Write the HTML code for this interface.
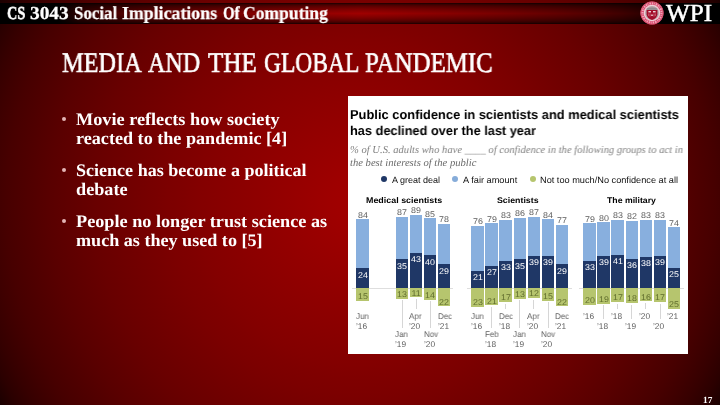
<!DOCTYPE html>
<html><head><meta charset="utf-8"><title>Media and the Global Pandemic</title>
<style>
html,body{margin:0;padding:0;}
body{width:720px;height:405px;overflow:hidden;position:relative;background:#7a0000;font-family:"Liberation Sans",sans-serif;}
.bg{position:absolute;left:0;top:0;width:720px;height:405px;}
.t{position:absolute;white-space:nowrap;margin:0;padding:0;text-rendering:geometricPrecision;will-change:transform;}
.r{position:absolute;}
#chart{position:absolute;left:348px;top:96px;width:340.2px;height:258px;background:#fff;}
.dot{position:absolute;width:6px;height:6px;border-radius:50%;}
.bul{position:absolute;width:4.4px;height:4.4px;border-radius:50%;background:#e3b5b5;}
</style></head><body>
<div class="bg" style="background:radial-gradient(circle 413px at 360px 202.5px,rgb(163,0,0) 0.00%,rgb(160,0,0) 3.57%,rgb(158,0,0) 7.14%,rgb(155,0,0) 10.71%,rgb(152,0,0) 14.29%,rgb(149,0,0) 17.86%,rgb(146,0,0) 21.43%,rgb(143,0,0) 25.00%,rgb(140,0,0) 28.57%,rgb(137,0,0) 32.14%,rgb(134,0,0) 35.71%,rgb(131,0,0) 39.29%,rgb(127,0,0) 42.86%,rgb(124,0,0) 46.43%,rgb(120,0,0) 50.00%,rgb(116,0,0) 53.57%,rgb(112,0,0) 57.14%,rgb(108,0,0) 60.71%,rgb(104,0,0) 64.29%,rgb(99,0,0) 67.86%,rgb(94,0,0) 71.43%,rgb(89,0,0) 75.00%,rgb(83,0,0) 78.57%,rgb(77,0,0) 82.14%,rgb(71,0,0) 85.71%,rgb(63,0,0) 89.29%,rgb(54,0,0) 92.86%,rgb(43,0,0) 96.43%,rgb(27,0,0) 100.00%);"></div>
<div id="band" style="position:absolute;left:0;top:3px;width:720px;height:20.7px;background:linear-gradient(180deg,rgb(23,0,0) 0.0%,rgb(59,0,0) 5.0%,rgb(78,0,0) 10.0%,rgb(93,0,0) 15.0%,rgb(105,0,0) 20.0%,rgb(116,0,0) 25.0%,rgb(126,0,0) 30.0%,rgb(135,0,0) 35.0%,rgb(143,0,0) 40.0%,rgb(151,0,0) 45.0%,rgb(158,0,0) 50.0%,rgb(151,0,0) 55.0%,rgb(143,0,0) 60.0%,rgb(135,0,0) 65.0%,rgb(126,0,0) 70.0%,rgb(116,0,0) 75.0%,rgb(105,0,0) 80.0%,rgb(93,0,0) 85.0%,rgb(78,0,0) 90.0%,rgb(59,0,0) 95.0%,rgb(23,0,0) 100.0%);"></div>
<div id="bandx" style="position:absolute;left:0;top:2.5px;width:720px;height:21.7px;background:linear-gradient(90deg,rgba(0,0,0,1) 0%,rgba(0,0,0,1.000) 8.00%,rgba(0,0,0,0.699) 11.00%,rgba(0,0,0,0.587) 14.00%,rgba(0,0,0,0.504) 17.00%,rgba(0,0,0,0.434) 20.00%,rgba(0,0,0,0.374) 23.00%,rgba(0,0,0,0.320) 26.00%,rgba(0,0,0,0.270) 29.00%,rgba(0,0,0,0.225) 32.00%,rgba(0,0,0,0.182) 35.00%,rgba(0,0,0,0.142) 38.00%,rgba(0,0,0,0.104) 41.00%,rgba(0,0,0,0.068) 44.00%,rgba(0,0,0,0.033) 47.00%,rgba(0,0,0,0.000) 50.00%,rgba(0,0,0,0.033) 53.00%,rgba(0,0,0,0.068) 56.00%,rgba(0,0,0,0.104) 59.00%,rgba(0,0,0,0.142) 62.00%,rgba(0,0,0,0.182) 65.00%,rgba(0,0,0,0.225) 68.00%,rgba(0,0,0,0.270) 71.00%,rgba(0,0,0,0.320) 74.00%,rgba(0,0,0,0.374) 77.00%,rgba(0,0,0,0.434) 80.00%,rgba(0,0,0,0.504) 83.00%,rgba(0,0,0,0.587) 86.00%,rgba(0,0,0,0.699) 89.00%,rgba(0,0,0,1.000) 92.00%,rgba(0,0,0,1) 100%);"></div>
<svg id="seal" style="position:absolute;left:638.9px;top:0.4px" width="26" height="26" viewBox="-13 -13 26 26">
<circle r="11.6" fill="#d6476a"/>
<circle r="9.6" fill="none" stroke="#f0a2b6" stroke-width="2.2" stroke-dasharray="1.3 0.7 0.8 1.1 1.6 0.9"/>
<circle r="11.2" fill="none" stroke="#dc5a74" stroke-width="0.7"/>
<circle r="7.6" fill="#b5a1a6" stroke="#f0d0d7" stroke-width="1.4"/>
<path d="M-5.2,-4.6 Q0,-6.6 5.2,-4.6 L5.2,-3.2 L-5.2,-3.2 Z" fill="#8f8a8c"/>
<path d="M-5.4,-3 L5.4,-3 L5.4,1.2 Q5,5.2 0,7.1 Q-5,5.2 -5.4,1.2 Z" fill="#a30d2a"/>
<rect x="-3.6" y="-1.9" width="2.6" height="1.3" fill="#f4e6e8"/>
<rect x="1" y="-1.9" width="2.6" height="1.3" fill="#f4e6e8"/>
<rect x="-1.1" y="1.6" width="2.2" height="1.2" fill="#ecd0d4"/>
<path d="M-3.4,0.4 L-3.4,3 M-2,0.4 L-2,3.6 M2,0.4 L2,3.6 M3.4,0.4 L3.4,3" stroke="#d9808f" stroke-width="0.6"/>
</svg>
<div id="chart"></div>
<div class="r" style="left:352.00px;top:287.80px;width:101.00px;height:0.80px;background:#dedede"></div>
<div class="r" style="left:356.40px;top:219.15px;width:12.40px;height:49.92px;background:#88afde"></div>
<div class="r" style="left:356.40px;top:268.47px;width:12.40px;height:20.33px;background:#1f3766"></div>
<div class="r" style="left:356.40px;top:288.20px;width:12.40px;height:12.33px;background:#b6c56e"></div>
<div class="r" style="left:395.80px;top:216.69px;width:12.40px;height:43.34px;background:#88afde"></div>
<div class="r" style="left:395.80px;top:259.43px;width:12.40px;height:29.37px;background:#1f3766"></div>
<div class="r" style="left:395.80px;top:288.20px;width:12.40px;height:10.69px;background:#b6c56e"></div>
<div class="r" style="left:401.60px;top:300.39px;width:0.80px;height:27.61px;background:#d6d6d6"></div>
<div class="r" style="left:409.80px;top:215.04px;width:12.40px;height:38.41px;background:#88afde"></div>
<div class="r" style="left:409.80px;top:252.85px;width:12.40px;height:35.95px;background:#1f3766"></div>
<div class="r" style="left:409.80px;top:288.20px;width:12.40px;height:9.04px;background:#b6c56e"></div>
<div class="r" style="left:415.60px;top:298.74px;width:0.80px;height:10.56px;background:#d6d6d6"></div>
<div class="r" style="left:424.00px;top:218.33px;width:12.40px;height:37.59px;background:#88afde"></div>
<div class="r" style="left:424.00px;top:255.32px;width:12.40px;height:33.48px;background:#1f3766"></div>
<div class="r" style="left:424.00px;top:288.20px;width:12.40px;height:11.51px;background:#b6c56e"></div>
<div class="r" style="left:429.80px;top:301.21px;width:0.80px;height:26.79px;background:#d6d6d6"></div>
<div class="r" style="left:438.00px;top:224.08px;width:12.40px;height:40.88px;background:#88afde"></div>
<div class="r" style="left:438.00px;top:264.36px;width:12.40px;height:24.44px;background:#1f3766"></div>
<div class="r" style="left:438.00px;top:288.20px;width:12.40px;height:18.08px;background:#b6c56e"></div>
<div class="r" style="left:467.00px;top:287.80px;width:105.00px;height:0.80px;background:#dedede"></div>
<div class="r" style="left:471.30px;top:225.73px;width:12.40px;height:45.81px;background:#88afde"></div>
<div class="r" style="left:471.30px;top:270.94px;width:12.40px;height:17.86px;background:#1f3766"></div>
<div class="r" style="left:471.30px;top:288.20px;width:12.40px;height:18.91px;background:#b6c56e"></div>
<div class="r" style="left:485.38px;top:223.26px;width:12.40px;height:43.34px;background:#88afde"></div>
<div class="r" style="left:485.38px;top:266.01px;width:12.40px;height:22.79px;background:#1f3766"></div>
<div class="r" style="left:485.38px;top:288.20px;width:12.40px;height:17.26px;background:#b6c56e"></div>
<div class="r" style="left:491.18px;top:306.96px;width:0.80px;height:21.04px;background:#d6d6d6"></div>
<div class="r" style="left:499.46px;top:219.97px;width:12.40px;height:41.70px;background:#88afde"></div>
<div class="r" style="left:499.46px;top:261.07px;width:12.40px;height:27.73px;background:#1f3766"></div>
<div class="r" style="left:499.46px;top:288.20px;width:12.40px;height:13.97px;background:#b6c56e"></div>
<div class="r" style="left:505.26px;top:303.67px;width:0.80px;height:5.63px;background:#d6d6d6"></div>
<div class="r" style="left:513.54px;top:217.51px;width:12.40px;height:42.52px;background:#88afde"></div>
<div class="r" style="left:513.54px;top:259.43px;width:12.40px;height:29.37px;background:#1f3766"></div>
<div class="r" style="left:513.54px;top:288.20px;width:12.40px;height:10.69px;background:#b6c56e"></div>
<div class="r" style="left:519.34px;top:300.39px;width:0.80px;height:27.61px;background:#d6d6d6"></div>
<div class="r" style="left:527.62px;top:216.69px;width:12.40px;height:40.06px;background:#88afde"></div>
<div class="r" style="left:527.62px;top:256.14px;width:12.40px;height:32.66px;background:#1f3766"></div>
<div class="r" style="left:527.62px;top:288.20px;width:12.40px;height:9.86px;background:#b6c56e"></div>
<div class="r" style="left:533.42px;top:299.56px;width:0.80px;height:9.74px;background:#d6d6d6"></div>
<div class="r" style="left:541.70px;top:219.15px;width:12.40px;height:37.59px;background:#88afde"></div>
<div class="r" style="left:541.70px;top:256.14px;width:12.40px;height:32.66px;background:#1f3766"></div>
<div class="r" style="left:541.70px;top:288.20px;width:12.40px;height:12.33px;background:#b6c56e"></div>
<div class="r" style="left:547.50px;top:302.03px;width:0.80px;height:25.97px;background:#d6d6d6"></div>
<div class="r" style="left:555.78px;top:224.91px;width:12.40px;height:40.06px;background:#88afde"></div>
<div class="r" style="left:555.78px;top:264.36px;width:12.40px;height:24.44px;background:#1f3766"></div>
<div class="r" style="left:555.78px;top:288.20px;width:12.40px;height:18.08px;background:#b6c56e"></div>
<div class="r" style="left:579.00px;top:287.80px;width:105.00px;height:0.80px;background:#dedede"></div>
<div class="r" style="left:583.30px;top:223.26px;width:12.40px;height:38.41px;background:#88afde"></div>
<div class="r" style="left:583.30px;top:261.07px;width:12.40px;height:27.73px;background:#1f3766"></div>
<div class="r" style="left:583.30px;top:288.20px;width:12.40px;height:16.44px;background:#b6c56e"></div>
<div class="r" style="left:597.38px;top:222.44px;width:12.40px;height:34.30px;background:#88afde"></div>
<div class="r" style="left:597.38px;top:256.14px;width:12.40px;height:32.66px;background:#1f3766"></div>
<div class="r" style="left:597.38px;top:288.20px;width:12.40px;height:15.62px;background:#b6c56e"></div>
<div class="r" style="left:603.18px;top:305.32px;width:0.80px;height:13.68px;background:#d6d6d6"></div>
<div class="r" style="left:611.46px;top:219.97px;width:12.40px;height:35.12px;background:#88afde"></div>
<div class="r" style="left:611.46px;top:254.50px;width:12.40px;height:34.30px;background:#1f3766"></div>
<div class="r" style="left:611.46px;top:288.20px;width:12.40px;height:13.97px;background:#b6c56e"></div>
<div class="r" style="left:617.26px;top:303.67px;width:0.80px;height:5.33px;background:#d6d6d6"></div>
<div class="r" style="left:625.54px;top:220.80px;width:12.40px;height:38.41px;background:#88afde"></div>
<div class="r" style="left:625.54px;top:258.61px;width:12.40px;height:30.19px;background:#1f3766"></div>
<div class="r" style="left:625.54px;top:288.20px;width:12.40px;height:14.80px;background:#b6c56e"></div>
<div class="r" style="left:631.34px;top:304.50px;width:0.80px;height:14.50px;background:#d6d6d6"></div>
<div class="r" style="left:639.62px;top:219.97px;width:12.40px;height:37.59px;background:#88afde"></div>
<div class="r" style="left:639.62px;top:256.96px;width:12.40px;height:31.84px;background:#1f3766"></div>
<div class="r" style="left:639.62px;top:288.20px;width:12.40px;height:13.15px;background:#b6c56e"></div>
<div class="r" style="left:645.42px;top:302.85px;width:0.80px;height:6.15px;background:#d6d6d6"></div>
<div class="r" style="left:653.70px;top:219.97px;width:12.40px;height:36.77px;background:#88afde"></div>
<div class="r" style="left:653.70px;top:256.14px;width:12.40px;height:32.66px;background:#1f3766"></div>
<div class="r" style="left:653.70px;top:288.20px;width:12.40px;height:13.97px;background:#b6c56e"></div>
<div class="r" style="left:659.50px;top:303.67px;width:0.80px;height:15.33px;background:#d6d6d6"></div>
<div class="r" style="left:667.78px;top:227.37px;width:12.40px;height:40.88px;background:#88afde"></div>
<div class="r" style="left:667.78px;top:267.65px;width:12.40px;height:21.15px;background:#1f3766"></div>
<div class="r" style="left:667.78px;top:288.20px;width:12.40px;height:20.55px;background:#b6c56e"></div>
<div class="dot" style="left:381.3px;top:176px;background:#1f3766"></div>
<div class="dot" style="left:452px;top:176px;background:#86acd9"></div>
<div class="dot" style="left:530px;top:176px;background:#b6c56e"></div>
<div class="bul" style="left:61.5px;top:117px"></div>
<div class="bul" style="left:61.5px;top:168px"></div>
<div class="bul" style="left:61.5px;top:219px"></div>
<div class="t" style="top:2.20px;font:normal bold 18.3px/23.79px 'Liberation Serif', serif;color:#fff;left:7.19px;transform-origin:0 50%;transform:scaleX(0.7802);-webkit-text-stroke:0.6px #fff;">CS</div>
<div class="t" style="top:2.20px;font:normal bold 18.3px/23.79px 'Liberation Serif', serif;color:#fff;left:30.35px;transform-origin:0 50%;transform:scaleX(1.0584);-webkit-text-stroke:0.25px #fff;">3043</div>
<div class="t" style="top:2.20px;font:normal bold 18.3px/23.79px 'Liberation Serif', serif;color:#fff;left:74.14px;transform-origin:0 50%;transform:scaleX(0.9236);-webkit-text-stroke:0.25px #fff;">Social</div>
<div class="t" style="top:2.20px;font:normal bold 18.3px/23.79px 'Liberation Serif', serif;color:#fff;left:122.45px;transform-origin:0 50%;transform:scaleX(0.9741);-webkit-text-stroke:0.25px #fff;">Implications</div>
<div class="t" style="top:2.20px;font:normal bold 18.3px/23.79px 'Liberation Serif', serif;color:#fff;left:222.82px;transform-origin:0 50%;transform:scaleX(0.8149);-webkit-text-stroke:0.45px #fff;">Of</div>
<div class="t" style="top:2.20px;font:normal bold 18.3px/23.79px 'Liberation Serif', serif;color:#fff;left:243.35px;transform-origin:0 50%;transform:scaleX(0.9601);-webkit-text-stroke:0.25px #fff;">Computing</div>
<div class="t" style="top:-1.82px;font:normal normal 24.6px/31.98px 'Liberation Serif', serif;color:#fff;left:665.60px;transform-origin:0 50%;transform:scaleX(1.0245);-webkit-text-stroke:0.5px #fff;">WPI</div>
<div class="t" style="top:46.20px;font:normal normal 28.4px/36.92px 'Liberation Serif', serif;color:#fff;left:61.64px;transform-origin:0 50%;transform:scaleX(0.8577);-webkit-text-stroke:0.6px #fff;">MEDIA</div>
<div class="t" style="top:46.20px;font:normal normal 28.4px/36.92px 'Liberation Serif', serif;color:#fff;left:147.94px;transform-origin:0 50%;transform:scaleX(0.8475);-webkit-text-stroke:0.6px #fff;">AND</div>
<div class="t" style="top:46.20px;font:normal normal 28.4px/36.92px 'Liberation Serif', serif;color:#fff;left:207.86px;transform-origin:0 50%;transform:scaleX(0.8842);-webkit-text-stroke:0.6px #fff;">THE</div>
<div class="t" style="top:46.20px;font:normal normal 28.4px/36.92px 'Liberation Serif', serif;color:#fff;left:263.57px;transform-origin:0 50%;transform:scaleX(0.8278);-webkit-text-stroke:0.6px #fff;">GLOBAL</div>
<div class="t" style="top:46.20px;font:normal normal 28.4px/36.92px 'Liberation Serif', serif;color:#fff;left:365.40px;transform-origin:0 50%;transform:scaleX(0.8767);-webkit-text-stroke:0.6px #fff;">PANDEMIC</div>
<div class="t" style="top:108.20px;font:normal bold 17.6px/22.88px 'Liberation Serif', serif;color:#fff;left:76.40px;transform-origin:0 50%;transform:scaleX(1.0358);">Movie reflects how society</div>
<div class="t" style="top:127.20px;font:normal bold 17.6px/22.88px 'Liberation Serif', serif;color:#fff;left:76.40px;transform-origin:0 50%;transform:scaleX(1.0308);">reacted to the pandemic [4]</div>
<div class="t" style="top:159.20px;font:normal bold 17.6px/22.88px 'Liberation Serif', serif;color:#fff;left:76.40px;transform-origin:0 50%;transform:scaleX(1.0259);">Science has become a political</div>
<div class="t" style="top:178.20px;font:normal bold 17.6px/22.88px 'Liberation Serif', serif;color:#fff;left:76.40px;transform-origin:0 50%;transform:scaleX(1.0352);">debate</div>
<div class="t" style="top:210.20px;font:normal bold 17.6px/22.88px 'Liberation Serif', serif;color:#fff;left:76.40px;transform-origin:0 50%;transform:scaleX(1.0353);">People no longer trust science as</div>
<div class="t" style="top:229.20px;font:normal bold 17.6px/22.88px 'Liberation Serif', serif;color:#fff;left:76.40px;transform-origin:0 50%;transform:scaleX(1.0291);">much as they used to [5]</div>
<div class="t" style="top:395.20px;font:normal bold 9.3px/12.09px 'Liberation Serif', serif;color:#fff;left:703.10px;transform-origin:0 50%;transform:scaleX(0.9788);">17</div>
<div class="t" style="top:107.20px;font:normal bold 12.9px/16.77px 'Liberation Sans', sans-serif;color:#000;left:350.00px;transform-origin:0 50%;transform:scaleX(0.9984);">Public confidence in scientists and medical scientists</div>
<div class="t" style="top:123.20px;font:normal bold 12.9px/16.77px 'Liberation Sans', sans-serif;color:#000;left:350.00px;transform-origin:0 50%;transform:scaleX(0.9908);">has declined over the last year</div>
<div class="t" style="top:144.21px;font:italic normal 10.6px/13.78px 'Liberation Serif', serif;color:#808080;left:350.00px;transform-origin:0 50%;transform:scaleX(0.9983);">% of U.S. adults who have ____ of confidence in the following groups to act in</div>
<div class="t" style="top:157.21px;font:italic normal 10.6px/13.78px 'Liberation Serif', serif;color:#6a6a6a;left:350.00px;transform-origin:0 50%;transform:scaleX(0.9998);">the best interests of the public</div>
<div class="t" style="top:175.21px;font:normal normal 9px/11.7px 'Liberation Sans', sans-serif;color:#111;left:392.30px;transform-origin:0 50%;transform:scaleX(0.9928);">A great deal</div>
<div class="t" style="top:175.21px;font:normal normal 9px/11.7px 'Liberation Sans', sans-serif;color:#111;left:462.50px;transform-origin:0 50%;transform:scaleX(1.0239);">A fair amount</div>
<div class="t" style="top:175.21px;font:normal normal 9px/11.7px 'Liberation Sans', sans-serif;color:#111;left:540.00px;transform-origin:0 50%;transform:scaleX(1.0216);">Not too much/No confidence at all</div>
<div class="t" style="top:196.21px;font:normal bold 8.2px/10.66px 'Liberation Sans', sans-serif;color:#000;left:366.20px;transform-origin:0 50%;transform:scaleX(1.0874);">Medical scientists</div>
<div class="t" style="top:196.21px;font:normal bold 8.2px/10.66px 'Liberation Sans', sans-serif;color:#000;left:497.30px;transform-origin:0 50%;transform:scaleX(1.0753);">Scientists</div>
<div class="t" style="top:196.21px;font:normal bold 8.2px/10.66px 'Liberation Sans', sans-serif;color:#000;left:607.10px;transform-origin:0 50%;transform:scaleX(1.0638);">The military</div>
<div class="t" style="top:210.20px;font:normal normal 8.3px/10.79px 'Liberation Sans', sans-serif;color:#5c5c5c;left:332.60px;width:60px;text-align:center;transform:scaleX(1.07);">84</div>
<div class="t" style="top:270.20px;font:normal normal 8.3px/10.79px 'Liberation Sans', sans-serif;color:#fff;left:332.60px;width:60px;text-align:center;transform:scaleX(1.07);">24</div>
<div class="t" style="top:291.20px;font:normal normal 8.3px/10.79px 'Liberation Sans', sans-serif;color:#5f6c2c;left:332.60px;width:60px;text-align:center;transform:scaleX(1.07);">15</div>
<div class="t" style="top:311.20px;font:normal normal 8.3px/10.79px 'Liberation Sans', sans-serif;color:#5e5e5e;left:355.90px;transform-origin:0 50%;transform:scaleX(0.96);">Jun</div>
<div class="t" style="top:321.20px;font:normal normal 8.3px/10.79px 'Liberation Sans', sans-serif;color:#5e5e5e;left:355.90px;transform-origin:0 50%;transform:scaleX(0.96);">’16</div>
<div class="t" style="top:207.20px;font:normal normal 8.3px/10.79px 'Liberation Sans', sans-serif;color:#5c5c5c;left:372.00px;width:60px;text-align:center;transform:scaleX(1.07);">87</div>
<div class="t" style="top:261.20px;font:normal normal 8.3px/10.79px 'Liberation Sans', sans-serif;color:#fff;left:372.00px;width:60px;text-align:center;transform:scaleX(1.07);">35</div>
<div class="t" style="top:289.20px;font:normal normal 8.3px/10.79px 'Liberation Sans', sans-serif;color:#5f6c2c;left:372.00px;width:60px;text-align:center;transform:scaleX(1.07);">13</div>
<div class="t" style="top:329.20px;font:normal normal 8.3px/10.79px 'Liberation Sans', sans-serif;color:#5e5e5e;left:395.30px;transform-origin:0 50%;transform:scaleX(0.96);">Jan</div>
<div class="t" style="top:339.20px;font:normal normal 8.3px/10.79px 'Liberation Sans', sans-serif;color:#5e5e5e;left:395.30px;transform-origin:0 50%;transform:scaleX(0.96);">’19</div>
<div class="t" style="top:205.20px;font:normal normal 8.3px/10.79px 'Liberation Sans', sans-serif;color:#5c5c5c;left:386.00px;width:60px;text-align:center;transform:scaleX(1.07);">89</div>
<div class="t" style="top:254.20px;font:normal normal 8.3px/10.79px 'Liberation Sans', sans-serif;color:#fff;left:386.00px;width:60px;text-align:center;transform:scaleX(1.07);">43</div>
<div class="t" style="top:288.20px;font:normal normal 8.3px/10.79px 'Liberation Sans', sans-serif;color:#5f6c2c;left:386.00px;width:60px;text-align:center;transform:scaleX(1.07);">11</div>
<div class="t" style="top:311.20px;font:normal normal 8.3px/10.79px 'Liberation Sans', sans-serif;color:#5e5e5e;left:409.30px;transform-origin:0 50%;transform:scaleX(0.96);">Apr</div>
<div class="t" style="top:321.20px;font:normal normal 8.3px/10.79px 'Liberation Sans', sans-serif;color:#5e5e5e;left:409.30px;transform-origin:0 50%;transform:scaleX(0.96);">’20</div>
<div class="t" style="top:209.20px;font:normal normal 8.3px/10.79px 'Liberation Sans', sans-serif;color:#5c5c5c;left:400.20px;width:60px;text-align:center;transform:scaleX(1.07);">85</div>
<div class="t" style="top:257.20px;font:normal normal 8.3px/10.79px 'Liberation Sans', sans-serif;color:#fff;left:400.20px;width:60px;text-align:center;transform:scaleX(1.07);">40</div>
<div class="t" style="top:290.20px;font:normal normal 8.3px/10.79px 'Liberation Sans', sans-serif;color:#5f6c2c;left:400.20px;width:60px;text-align:center;transform:scaleX(1.07);">14</div>
<div class="t" style="top:329.20px;font:normal normal 8.3px/10.79px 'Liberation Sans', sans-serif;color:#5e5e5e;left:423.50px;transform-origin:0 50%;transform:scaleX(0.96);">Nov</div>
<div class="t" style="top:339.20px;font:normal normal 8.3px/10.79px 'Liberation Sans', sans-serif;color:#5e5e5e;left:423.50px;transform-origin:0 50%;transform:scaleX(0.96);">’20</div>
<div class="t" style="top:214.20px;font:normal normal 8.3px/10.79px 'Liberation Sans', sans-serif;color:#5c5c5c;left:414.20px;width:60px;text-align:center;transform:scaleX(1.07);">78</div>
<div class="t" style="top:266.20px;font:normal normal 8.3px/10.79px 'Liberation Sans', sans-serif;color:#fff;left:414.20px;width:60px;text-align:center;transform:scaleX(1.07);">29</div>
<div class="t" style="top:297.20px;font:normal normal 8.3px/10.79px 'Liberation Sans', sans-serif;color:#5f6c2c;left:414.20px;width:60px;text-align:center;transform:scaleX(1.07);">22</div>
<div class="t" style="top:311.20px;font:normal normal 8.3px/10.79px 'Liberation Sans', sans-serif;color:#5e5e5e;left:437.50px;transform-origin:0 50%;transform:scaleX(0.96);">Dec</div>
<div class="t" style="top:321.20px;font:normal normal 8.3px/10.79px 'Liberation Sans', sans-serif;color:#5e5e5e;left:437.50px;transform-origin:0 50%;transform:scaleX(0.96);">’21</div>
<div class="t" style="top:216.20px;font:normal normal 8.3px/10.79px 'Liberation Sans', sans-serif;color:#5c5c5c;left:447.50px;width:60px;text-align:center;transform:scaleX(1.07);">76</div>
<div class="t" style="top:272.20px;font:normal normal 8.3px/10.79px 'Liberation Sans', sans-serif;color:#fff;left:447.50px;width:60px;text-align:center;transform:scaleX(1.07);">21</div>
<div class="t" style="top:297.20px;font:normal normal 8.3px/10.79px 'Liberation Sans', sans-serif;color:#5f6c2c;left:447.50px;width:60px;text-align:center;transform:scaleX(1.07);">23</div>
<div class="t" style="top:311.20px;font:normal normal 8.3px/10.79px 'Liberation Sans', sans-serif;color:#5e5e5e;left:470.80px;transform-origin:0 50%;transform:scaleX(0.96);">Jun</div>
<div class="t" style="top:321.20px;font:normal normal 8.3px/10.79px 'Liberation Sans', sans-serif;color:#5e5e5e;left:470.80px;transform-origin:0 50%;transform:scaleX(0.96);">’16</div>
<div class="t" style="top:214.20px;font:normal normal 8.3px/10.79px 'Liberation Sans', sans-serif;color:#5c5c5c;left:461.58px;width:60px;text-align:center;transform:scaleX(1.07);">79</div>
<div class="t" style="top:267.20px;font:normal normal 8.3px/10.79px 'Liberation Sans', sans-serif;color:#fff;left:461.58px;width:60px;text-align:center;transform:scaleX(1.07);">27</div>
<div class="t" style="top:296.20px;font:normal normal 8.3px/10.79px 'Liberation Sans', sans-serif;color:#5f6c2c;left:461.58px;width:60px;text-align:center;transform:scaleX(1.07);">21</div>
<div class="t" style="top:329.20px;font:normal normal 8.3px/10.79px 'Liberation Sans', sans-serif;color:#5e5e5e;left:484.88px;transform-origin:0 50%;transform:scaleX(0.96);">Feb</div>
<div class="t" style="top:339.20px;font:normal normal 8.3px/10.79px 'Liberation Sans', sans-serif;color:#5e5e5e;left:484.88px;transform-origin:0 50%;transform:scaleX(0.96);">’18</div>
<div class="t" style="top:210.20px;font:normal normal 8.3px/10.79px 'Liberation Sans', sans-serif;color:#5c5c5c;left:475.66px;width:60px;text-align:center;transform:scaleX(1.07);">83</div>
<div class="t" style="top:262.20px;font:normal normal 8.3px/10.79px 'Liberation Sans', sans-serif;color:#fff;left:475.66px;width:60px;text-align:center;transform:scaleX(1.07);">33</div>
<div class="t" style="top:292.20px;font:normal normal 8.3px/10.79px 'Liberation Sans', sans-serif;color:#5f6c2c;left:475.66px;width:60px;text-align:center;transform:scaleX(1.07);">17</div>
<div class="t" style="top:311.20px;font:normal normal 8.3px/10.79px 'Liberation Sans', sans-serif;color:#5e5e5e;left:498.96px;transform-origin:0 50%;transform:scaleX(0.96);">Dec</div>
<div class="t" style="top:321.20px;font:normal normal 8.3px/10.79px 'Liberation Sans', sans-serif;color:#5e5e5e;left:498.96px;transform-origin:0 50%;transform:scaleX(0.96);">’18</div>
<div class="t" style="top:208.20px;font:normal normal 8.3px/10.79px 'Liberation Sans', sans-serif;color:#5c5c5c;left:489.74px;width:60px;text-align:center;transform:scaleX(1.07);">86</div>
<div class="t" style="top:261.20px;font:normal normal 8.3px/10.79px 'Liberation Sans', sans-serif;color:#fff;left:489.74px;width:60px;text-align:center;transform:scaleX(1.07);">35</div>
<div class="t" style="top:289.20px;font:normal normal 8.3px/10.79px 'Liberation Sans', sans-serif;color:#5f6c2c;left:489.74px;width:60px;text-align:center;transform:scaleX(1.07);">13</div>
<div class="t" style="top:329.20px;font:normal normal 8.3px/10.79px 'Liberation Sans', sans-serif;color:#5e5e5e;left:513.04px;transform-origin:0 50%;transform:scaleX(0.96);">Jan</div>
<div class="t" style="top:339.20px;font:normal normal 8.3px/10.79px 'Liberation Sans', sans-serif;color:#5e5e5e;left:513.04px;transform-origin:0 50%;transform:scaleX(0.96);">’19</div>
<div class="t" style="top:207.20px;font:normal normal 8.3px/10.79px 'Liberation Sans', sans-serif;color:#5c5c5c;left:503.82px;width:60px;text-align:center;transform:scaleX(1.07);">87</div>
<div class="t" style="top:257.20px;font:normal normal 8.3px/10.79px 'Liberation Sans', sans-serif;color:#fff;left:503.82px;width:60px;text-align:center;transform:scaleX(1.07);">39</div>
<div class="t" style="top:288.20px;font:normal normal 8.3px/10.79px 'Liberation Sans', sans-serif;color:#5f6c2c;left:503.82px;width:60px;text-align:center;transform:scaleX(1.07);">12</div>
<div class="t" style="top:311.20px;font:normal normal 8.3px/10.79px 'Liberation Sans', sans-serif;color:#5e5e5e;left:527.12px;transform-origin:0 50%;transform:scaleX(0.96);">Apr</div>
<div class="t" style="top:321.20px;font:normal normal 8.3px/10.79px 'Liberation Sans', sans-serif;color:#5e5e5e;left:527.12px;transform-origin:0 50%;transform:scaleX(0.96);">’20</div>
<div class="t" style="top:210.20px;font:normal normal 8.3px/10.79px 'Liberation Sans', sans-serif;color:#5c5c5c;left:517.90px;width:60px;text-align:center;transform:scaleX(1.07);">84</div>
<div class="t" style="top:257.20px;font:normal normal 8.3px/10.79px 'Liberation Sans', sans-serif;color:#fff;left:517.90px;width:60px;text-align:center;transform:scaleX(1.07);">39</div>
<div class="t" style="top:291.20px;font:normal normal 8.3px/10.79px 'Liberation Sans', sans-serif;color:#5f6c2c;left:517.90px;width:60px;text-align:center;transform:scaleX(1.07);">15</div>
<div class="t" style="top:329.20px;font:normal normal 8.3px/10.79px 'Liberation Sans', sans-serif;color:#5e5e5e;left:541.20px;transform-origin:0 50%;transform:scaleX(0.96);">Nov</div>
<div class="t" style="top:339.20px;font:normal normal 8.3px/10.79px 'Liberation Sans', sans-serif;color:#5e5e5e;left:541.20px;transform-origin:0 50%;transform:scaleX(0.96);">’20</div>
<div class="t" style="top:215.20px;font:normal normal 8.3px/10.79px 'Liberation Sans', sans-serif;color:#5c5c5c;left:531.98px;width:60px;text-align:center;transform:scaleX(1.07);">77</div>
<div class="t" style="top:266.20px;font:normal normal 8.3px/10.79px 'Liberation Sans', sans-serif;color:#fff;left:531.98px;width:60px;text-align:center;transform:scaleX(1.07);">29</div>
<div class="t" style="top:297.20px;font:normal normal 8.3px/10.79px 'Liberation Sans', sans-serif;color:#5f6c2c;left:531.98px;width:60px;text-align:center;transform:scaleX(1.07);">22</div>
<div class="t" style="top:311.20px;font:normal normal 8.3px/10.79px 'Liberation Sans', sans-serif;color:#5e5e5e;left:555.28px;transform-origin:0 50%;transform:scaleX(0.96);">Dec</div>
<div class="t" style="top:321.20px;font:normal normal 8.3px/10.79px 'Liberation Sans', sans-serif;color:#5e5e5e;left:555.28px;transform-origin:0 50%;transform:scaleX(0.96);">’21</div>
<div class="t" style="top:214.20px;font:normal normal 8.3px/10.79px 'Liberation Sans', sans-serif;color:#5c5c5c;left:559.50px;width:60px;text-align:center;transform:scaleX(1.07);">79</div>
<div class="t" style="top:262.20px;font:normal normal 8.3px/10.79px 'Liberation Sans', sans-serif;color:#fff;left:559.50px;width:60px;text-align:center;transform:scaleX(1.07);">33</div>
<div class="t" style="top:295.20px;font:normal normal 8.3px/10.79px 'Liberation Sans', sans-serif;color:#5f6c2c;left:559.50px;width:60px;text-align:center;transform:scaleX(1.07);">20</div>
<div class="t" style="top:311.20px;font:normal normal 8.3px/10.79px 'Liberation Sans', sans-serif;color:#5e5e5e;left:582.80px;transform-origin:0 50%;transform:scaleX(0.96);">’16</div>
<div class="t" style="top:213.20px;font:normal normal 8.3px/10.79px 'Liberation Sans', sans-serif;color:#5c5c5c;left:573.58px;width:60px;text-align:center;transform:scaleX(1.07);">80</div>
<div class="t" style="top:257.20px;font:normal normal 8.3px/10.79px 'Liberation Sans', sans-serif;color:#fff;left:573.58px;width:60px;text-align:center;transform:scaleX(1.07);">39</div>
<div class="t" style="top:294.20px;font:normal normal 8.3px/10.79px 'Liberation Sans', sans-serif;color:#5f6c2c;left:573.58px;width:60px;text-align:center;transform:scaleX(1.07);">19</div>
<div class="t" style="top:321.20px;font:normal normal 8.3px/10.79px 'Liberation Sans', sans-serif;color:#5e5e5e;left:596.88px;transform-origin:0 50%;transform:scaleX(0.96);">’18</div>
<div class="t" style="top:210.20px;font:normal normal 8.3px/10.79px 'Liberation Sans', sans-serif;color:#5c5c5c;left:587.66px;width:60px;text-align:center;transform:scaleX(1.07);">83</div>
<div class="t" style="top:256.20px;font:normal normal 8.3px/10.79px 'Liberation Sans', sans-serif;color:#fff;left:587.66px;width:60px;text-align:center;transform:scaleX(1.07);">41</div>
<div class="t" style="top:292.20px;font:normal normal 8.3px/10.79px 'Liberation Sans', sans-serif;color:#5f6c2c;left:587.66px;width:60px;text-align:center;transform:scaleX(1.07);">17</div>
<div class="t" style="top:311.20px;font:normal normal 8.3px/10.79px 'Liberation Sans', sans-serif;color:#5e5e5e;left:610.96px;transform-origin:0 50%;transform:scaleX(0.96);">’18</div>
<div class="t" style="top:211.20px;font:normal normal 8.3px/10.79px 'Liberation Sans', sans-serif;color:#5c5c5c;left:601.74px;width:60px;text-align:center;transform:scaleX(1.07);">82</div>
<div class="t" style="top:260.20px;font:normal normal 8.3px/10.79px 'Liberation Sans', sans-serif;color:#fff;left:601.74px;width:60px;text-align:center;transform:scaleX(1.07);">36</div>
<div class="t" style="top:293.20px;font:normal normal 8.3px/10.79px 'Liberation Sans', sans-serif;color:#5f6c2c;left:601.74px;width:60px;text-align:center;transform:scaleX(1.07);">18</div>
<div class="t" style="top:321.20px;font:normal normal 8.3px/10.79px 'Liberation Sans', sans-serif;color:#5e5e5e;left:625.04px;transform-origin:0 50%;transform:scaleX(0.96);">’19</div>
<div class="t" style="top:210.20px;font:normal normal 8.3px/10.79px 'Liberation Sans', sans-serif;color:#5c5c5c;left:615.82px;width:60px;text-align:center;transform:scaleX(1.07);">83</div>
<div class="t" style="top:258.20px;font:normal normal 8.3px/10.79px 'Liberation Sans', sans-serif;color:#fff;left:615.82px;width:60px;text-align:center;transform:scaleX(1.07);">38</div>
<div class="t" style="top:292.20px;font:normal normal 8.3px/10.79px 'Liberation Sans', sans-serif;color:#5f6c2c;left:615.82px;width:60px;text-align:center;transform:scaleX(1.07);">16</div>
<div class="t" style="top:311.20px;font:normal normal 8.3px/10.79px 'Liberation Sans', sans-serif;color:#5e5e5e;left:639.12px;transform-origin:0 50%;transform:scaleX(0.96);">’20</div>
<div class="t" style="top:210.20px;font:normal normal 8.3px/10.79px 'Liberation Sans', sans-serif;color:#5c5c5c;left:629.90px;width:60px;text-align:center;transform:scaleX(1.07);">83</div>
<div class="t" style="top:257.20px;font:normal normal 8.3px/10.79px 'Liberation Sans', sans-serif;color:#fff;left:629.90px;width:60px;text-align:center;transform:scaleX(1.07);">39</div>
<div class="t" style="top:292.20px;font:normal normal 8.3px/10.79px 'Liberation Sans', sans-serif;color:#5f6c2c;left:629.90px;width:60px;text-align:center;transform:scaleX(1.07);">17</div>
<div class="t" style="top:321.20px;font:normal normal 8.3px/10.79px 'Liberation Sans', sans-serif;color:#5e5e5e;left:653.20px;transform-origin:0 50%;transform:scaleX(0.96);">’20</div>
<div class="t" style="top:218.20px;font:normal normal 8.3px/10.79px 'Liberation Sans', sans-serif;color:#5c5c5c;left:643.98px;width:60px;text-align:center;transform:scaleX(1.07);">74</div>
<div class="t" style="top:269.20px;font:normal normal 8.3px/10.79px 'Liberation Sans', sans-serif;color:#fff;left:643.98px;width:60px;text-align:center;transform:scaleX(1.07);">25</div>
<div class="t" style="top:299.20px;font:normal normal 8.3px/10.79px 'Liberation Sans', sans-serif;color:#5f6c2c;left:643.98px;width:60px;text-align:center;transform:scaleX(1.07);">25</div>
<div class="t" style="top:311.20px;font:normal normal 8.3px/10.79px 'Liberation Sans', sans-serif;color:#5e5e5e;left:667.28px;transform-origin:0 50%;transform:scaleX(0.96);">’21</div>
</body></html>
